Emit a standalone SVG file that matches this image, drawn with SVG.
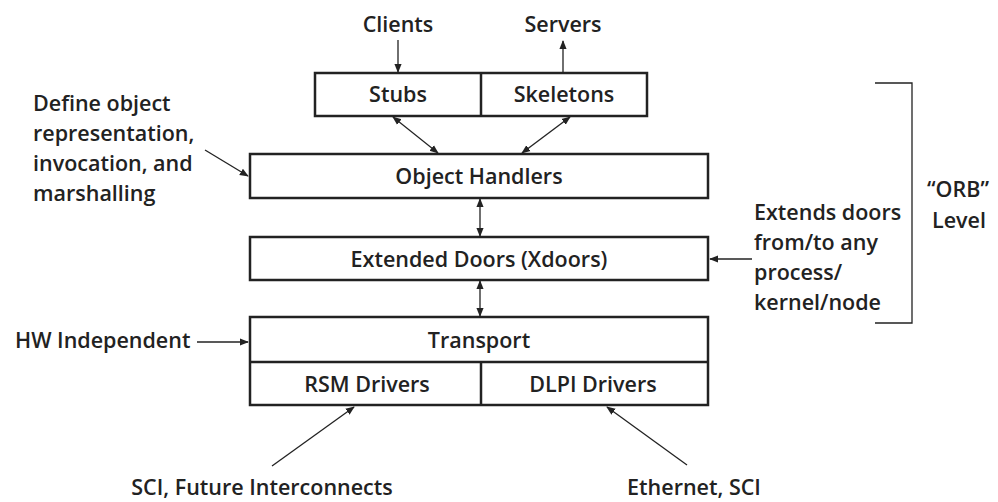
<svg xmlns="http://www.w3.org/2000/svg" width="998" height="502" viewBox="0 0 998 502">
<defs>
<marker id="ah" viewBox="0 0 10 10" refX="9" refY="5" markerWidth="9" markerHeight="9" markerUnits="userSpaceOnUse" orient="auto-start-reverse">
<path d="M0,1 L10,5 L0,9 Z" fill="#222"/>
</marker>
</defs>
<style>
text{font-family:"Open Sans","Liberation Sans",sans-serif;font-weight:600;font-size:21.5px;fill:#222}
.box{fill:#fff;stroke:#222;stroke-width:2.5}
.c{stroke:#222;stroke-width:1.3;fill:none}
.m{text-anchor:middle}
</style>
<rect width="998" height="502" fill="#fff"/>
<g id="stubs-skeletons">
<rect class="box" x="315" y="73" width="332" height="43"/>
<line class="box" x1="481" y1="73" x2="481" y2="116"/>
<text class="m" x="398" y="102">Stubs</text>
<text class="m" x="564" y="102">Skeletons</text>
</g>
<g id="object-handlers">
<rect class="box" x="250" y="154" width="458" height="44"/>
<text class="m" x="479" y="184">Object Handlers</text>
</g>
<g id="extended-doors">
<rect class="box" x="250" y="237" width="458" height="43"/>
<text class="m" x="479" y="267">Extended Doors (Xdoors)</text>
</g>
<g id="transport">
<rect class="box" x="250" y="317" width="458" height="88"/>
<line class="box" x1="250" y1="362" x2="708" y2="362"/>
<line class="box" x1="481" y1="362" x2="481" y2="405"/>
<text class="m" x="479" y="348">Transport</text>
<text class="m" x="367" y="392">RSM Drivers</text>
<text class="m" x="593" y="392">DLPI Drivers</text>
</g>
<g id="labels">
<text class="m" x="398" y="32">Clients</text>
<text class="m" x="563" y="32">Servers</text>
<text x="33" y="111">Define object</text>
<text x="33" y="141">representation,</text>
<text x="33" y="171">invocation, and</text>
<text x="33" y="201">marshalling</text>
<text x="15" y="348">HW Independent</text>
<text x="754" y="220">Extends doors</text>
<text x="754" y="250">from/to any</text>
<text x="754" y="280">process/</text>
<text x="754" y="310">kernel/node</text>
<text class="m" x="958" y="197">“ORB”</text>
<text class="m" x="959" y="228">Level</text>
<text class="m" x="262" y="495">SCI, Future Interconnects</text>
<text class="m" x="694" y="495">Ethernet, SCI</text>
</g>
<g id="connectors">
<line class="c" x1="398" y1="40" x2="398" y2="72" marker-end="url(#ah)"/>
<line class="c" x1="563" y1="73" x2="563" y2="41" marker-end="url(#ah)"/>
<line class="c" x1="393" y1="117" x2="438" y2="153" marker-start="url(#ah)" marker-end="url(#ah)"/>
<line class="c" x1="570" y1="117" x2="522" y2="153" marker-start="url(#ah)" marker-end="url(#ah)"/>
<line class="c" x1="480" y1="199" x2="480" y2="236" marker-start="url(#ah)" marker-end="url(#ah)"/>
<line class="c" x1="480" y1="281" x2="480" y2="316" marker-start="url(#ah)" marker-end="url(#ah)"/>
<line class="c" x1="205" y1="150" x2="248" y2="176" marker-end="url(#ah)"/>
<line class="c" x1="197" y1="342" x2="248" y2="342" marker-end="url(#ah)"/>
<line class="c" x1="752" y1="259" x2="710" y2="259" marker-end="url(#ah)"/>
<line class="c" x1="272" y1="466" x2="354" y2="407" marker-end="url(#ah)"/>
<line class="c" x1="687" y1="465" x2="607" y2="407" marker-end="url(#ah)"/>
<polyline class="c" points="875,83 912,83 912,323 875,323"/>
</g>
</svg>
